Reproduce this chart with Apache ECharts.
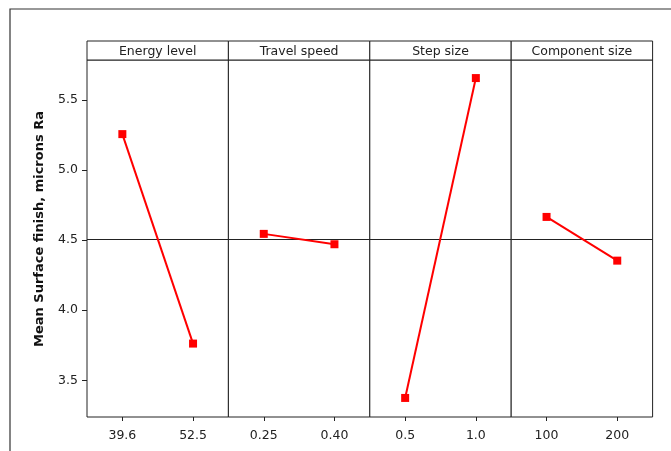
<!DOCTYPE html>
<html>
<head>
<meta charset="utf-8">
<script src="https://cdn.jsdelivr.net/npm/echarts@6/dist/echarts.min.js"></script>
<style>
html,body{margin:0;padding:0;background:#fff;}
#chart{width:671px;height:451px;}
</style>
</head>
<body>
<div id="chart"></div>
<script>
// ---- data ----
const factorNames = ['Energy level', 'Travel speed', 'Step size', 'Component size'];
const energyLevels = ['39.6', '52.5'];
const energyMeans = [5.257, 3.762];
const speedLevels = ['0.25', '0.40'];
const speedMeans = [4.545, 4.471];
const stepLevels = ['0.5', '1.0'];
const stepMeans = [3.374, 5.657];
const sizeLevels = ['100', '200'];
const sizeMeans = [4.666, 4.354];
const yTicks = [3.5, 4.0, 4.5, 5.0, 5.5];
const grandMean = [4.51];
const yTitle = 'Mean Surface finish, microns Ra';

// ---- layout ----
const levelsList = [energyLevels, speedLevels, stepLevels, sizeLevels];
const meansList = [energyMeans, speedMeans, stepMeans, sizeMeans];
const panelLeft = 87, panelW = 141.4, plotTop = 60, plotBottom = 417, headerTop = 41;
const yMin = 3.238, yMax = 5.786;
const FONT = '"DejaVu Sans", Verdana, sans-serif';

const grids = [], xAxes = [], yAxes = [], series = [], graphics = [];

factorNames.forEach((name, i) => {
  const left = panelLeft + i * panelW;
  grids.push({
    left: left, top: plotTop, width: panelW, height: plotBottom - plotTop,
    show: true, borderColor: '#222', borderWidth: 1, backgroundColor: '#fff',
    containLabel: false, outerBoundsMode: 'none'
  });
  xAxes.push({
    type: 'category', gridIndex: i, data: levelsList[i], boundaryGap: true,
    axisLine: { show: false },
    axisTick: { show: true, alignWithLabel: true, length: 4, lineStyle: { color: '#222' } },
    axisLabel: { color: '#222', fontSize: 12.5, fontFamily: FONT, margin: 12 },
    splitLine: { show: false }
  });
  yAxes.push({
    type: 'value', gridIndex: i, min: yMin, max: yMax,
    axisLine: { show: false },
    axisTick: { show: i === 0, customValues: yTicks, length: 5, lineStyle: { color: '#222' } },
    axisLabel: { show: i === 0, customValues: yTicks, color: '#222', fontSize: 12.5, fontFamily: FONT,
      margin: 9, formatter: v => Number(v).toFixed(1) },
    splitLine: { show: false }
  });
  series.push({
    type: 'line', xAxisIndex: i, yAxisIndex: i, data: meansList[i],
    symbol: 'rect', symbolSize: 8,
    itemStyle: { color: '#ff0000' },
    lineStyle: { color: '#ff0000', width: 2 },
    z: 5,
    markLine: {
      silent: true, symbol: 'none', label: { show: false },
      lineStyle: { color: '#222', width: 1, type: 'solid' },
      data: [{ yAxis: grandMean[0] }],
      animation: false
    }
  });
  graphics.push({
    type: 'rect', shape: { x: left, y: headerTop, width: panelW, height: plotTop - headerTop },
    style: { fill: '#fff', stroke: '#222', lineWidth: 1 }, z: 10
  });
  graphics.push({
    type: 'text', x: left + panelW / 2, y: headerTop + (plotTop - headerTop) / 2 + 1,
    style: { text: name, fill: '#222', font: '12.5px ' + FONT, align: 'center', verticalAlign: 'middle' }, z: 11
  });
});

// outer frame
graphics.push({
  type: 'rect', shape: { x: 10, y: 9, width: 700, height: 500 },
  style: { fill: null, stroke: '#333', lineWidth: 1.2 }, z: 1
});
// y title
graphics.push({
  type: 'text', x: 40, y: 229, rotation: Math.PI / 2,
  style: { text: yTitle, fill: '#111', font: 'bold 13px ' + FONT, align: 'center', verticalAlign: 'middle' }, z: 11
});

const chart = echarts.init(document.getElementById('chart'), null, { renderer: 'canvas' });
chart.setOption({
  animation: false,
  backgroundColor: '#fff',
  grid: grids, xAxis: xAxes, yAxis: yAxes, series: series,
  graphic: graphics
});
</script>
</body>
</html>
